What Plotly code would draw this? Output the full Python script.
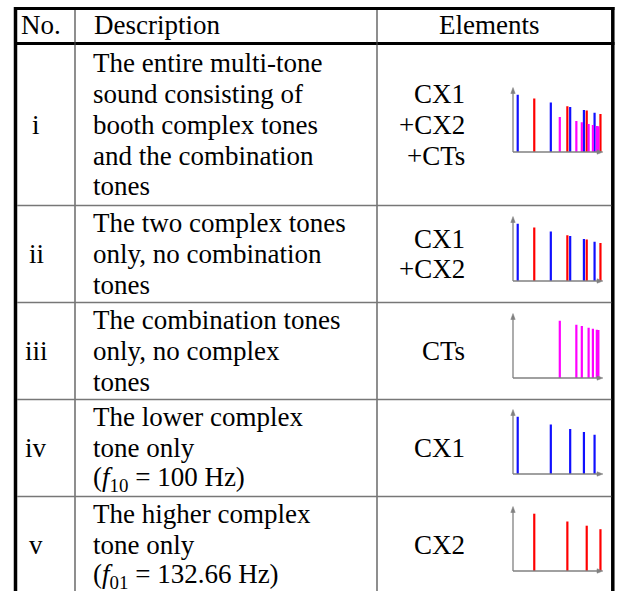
import math
import plotly.graph_objects as go

W, H = 620, 591

# ---------------- data ----------------
HEADERS = ["No.", "Description", "Elements"]
ROW_IDS = ["i", "ii", "iii", "iv", "v"]
DESCRIPTIONS = [
    ["The entire multi-tone", "sound consisting of", "booth complex tones",
     "and the combination", "tones"],
    ["The two complex tones", "only, no combination", "tones"],
    ["The combination tones", "only, no complex", "tones"],
    ["The lower complex", "tone only", "(<i>f</i><sub>10</sub> = 100 Hz)"],
    ["The higher complex", "tone only", "(<i>f</i><sub>01</sub> = 132.66 Hz)"],
]
ELEMENTS = [["CX1", "+CX2", "+CTs"], ["CX1", "+CX2"], ["CTs"], ["CX1"], ["CX2"]]
ROW_SPECTRA = [["CX1", "CX2", "CT"], ["CX1", "CX2"], ["CT"], ["CX1"], ["CX2"]]

# spectral lines (frequency in Hz, relative level in dB)
CX1_FREQ = [100, 200, 300, 400, 500]
CX1_LEVEL = [0.0, -7.7, -12.3, -15.3, -18.0]
CX2_FREQ = [141.4, 282.8, 424.2, 565.6]
CX2_LEVEL = [-3.7, -11.5, -15.7, -19.2]
CT_FREQ = [241.4, 341.4, 382.8, 441.4, 482.8, 524.2, 541.4]
CT_LEVEL = [-22.3, -26.3, -27.6, -29.3, -30.3, -31.3, -31.6]

SPECTRA = {
    "CX1": (CX1_FREQ, CX1_LEVEL, "#1010ff"),
    "CX2": (CX2_FREQ, CX2_LEVEL, "#ff0000"),
    "CT": (CT_FREQ, CT_LEVEL, "#ff00ff"),
}

# ---------------- layout geometry (window pixels) ----------------
FONT = dict(family="Liberation Serif", size=27, color="black")
LINE_H = 31
ROW_BOUNDS = [43.5, 205.5, 302.5, 399.5, 496.5, 593.5]
AXIS_Y = [152, 281, 378, 474, 571]
AX_LEN = 64.5
PEAK = 57.3
X0_PX, X1_PX = 513, 603
F_LO, F_HI = 90.6, 596.5
RIGHT_EDGE = 612.8


def px(x):
    return x / W


def py(y):
    return 1 - y / H


fig = go.Figure()
shapes = []
annotations = []


def line(x0, y0, x1, y1, color, width):
    shapes.append(dict(type="line", xref="paper", yref="paper",
                       x0=px(x0), y0=py(y0), x1=px(x1), y1=py(y1),
                       line=dict(color=color, width=width), layer="above"))


def text(s, x, y, anchor="left"):
    annotations.append(dict(text=s, x=px(x), y=py(y), xref="paper", yref="paper",
                            xanchor=anchor, yanchor="middle", showarrow=False,
                            font=FONT))


# table rules
line(15.5, 7, 15.5, 595, "black", 3.5)
line(RIGHT_EDGE, 7, RIGHT_EDGE, 595, "black", 3.5)
line(14, 8.5, RIGHT_EDGE + 1.7, 8.5, "black", 3)
line(14, 43.5, RIGHT_EDGE + 1.7, 43.5, "black", 3)
line(75, 10, 75, 595, "#444444", 1.2)
line(377, 10, 377, 595, "#444444", 1.2)
for yb in ROW_BOUNDS[1:-1]:
    line(17, yb, RIGHT_EDGE - 1.5, yb, "#777777", 1.6)

# header
text(HEADERS[0], 19, 25)
text(HEADERS[1], 92, 25)
text(HEADERS[2], 489, 25, "center")

layout_axes = {}
for k in range(5):
    top, bot = ROW_BOUNDS[k], ROW_BOUNDS[k + 1]
    mid = (top + bot) / 2
    desc = DESCRIPTIONS[k]
    n = len(desc)
    for j, s in enumerate(desc):
        text(s, 91, mid + (j - (n - 1) / 2) * LINE_H)
    text(ROW_IDS[k], 36, mid, "center")
    el = ELEMENTS[k]
    m = len(el)
    for j, s in enumerate(el):
        text(s, 467, mid + (j - (m - 1) / 2) * LINE_H, "right")

    # mini spectrum chart
    ax_y = AXIS_Y[k]
    tip_y = ax_y - AX_LEN
    sfx = "" if k == 0 else str(k + 1)
    xa, ya = "x" + sfx, "y" + sfx
    layout_axes["xaxis" + sfx] = dict(
        domain=[px(X0_PX), px(X1_PX)], type="log",
        range=[math.log10(F_LO), math.log10(F_HI)], anchor=ya,
        showgrid=False, zeroline=False, showticklabels=False, ticks="",
        showline=False, fixedrange=True)
    layout_axes["yaxis" + sfx] = dict(
        domain=[py(ax_y), py(tip_y)], range=[0, AX_LEN], anchor=xa,
        showgrid=False, zeroline=False, showticklabels=False, ticks="",
        showline=False, fixedrange=True)

    comps = ROW_SPECTRA[k]
    top_level = max(max(SPECTRA[c][1]) for c in comps)
    for c in comps:
        freqs, levels, col = SPECTRA[c]
        xs, ys = [], []
        for f, lv in zip(freqs, levels):
            xs += [f, f, None]
            ys += [0, lv - top_level + PEAK, None]
        fig.add_trace(go.Scatter(x=xs, y=ys, mode="lines", xaxis=xa, yaxis=ya,
                                 line=dict(color=col, width=2.2),
                                 hoverinfo="skip", showlegend=False))

    # axes with arrow heads
    gray = "#808080"
    line(X0_PX, ax_y, X0_PX, tip_y + 5, gray, 1.3)
    line(X0_PX, ax_y, X1_PX - 5, ax_y, gray, 1.3)
    shapes.append(dict(type="path", xref="paper", yref="paper",
                       path=f"M {px(X0_PX)},{py(tip_y)} L {px(X0_PX-2.2)},{py(tip_y+6)} "
                            f"L {px(X0_PX+2.2)},{py(tip_y+6)} Z",
                       fillcolor=gray, line=dict(color=gray, width=0.5), layer="above"))
    shapes.append(dict(type="path", xref="paper", yref="paper",
                       path=f"M {px(X1_PX)},{py(ax_y)} L {px(X1_PX-6)},{py(ax_y-2.2)} "
                            f"L {px(X1_PX-6)},{py(ax_y+2.2)} Z",
                       fillcolor=gray, line=dict(color=gray, width=0.5), layer="above"))

fig.update_layout(width=W, height=H, margin=dict(l=0, r=0, t=0, b=0),
                  paper_bgcolor="white", plot_bgcolor="rgba(0,0,0,0)",
                  shapes=shapes, annotations=annotations, showlegend=False,
                  **layout_axes)
fig.write_html(
    "out.html",
    config={"displayModeBar": False, "staticPlot": True},
    post_script="document.body.style.margin='0';"
                "document.body.style.overflow='hidden';",
)
